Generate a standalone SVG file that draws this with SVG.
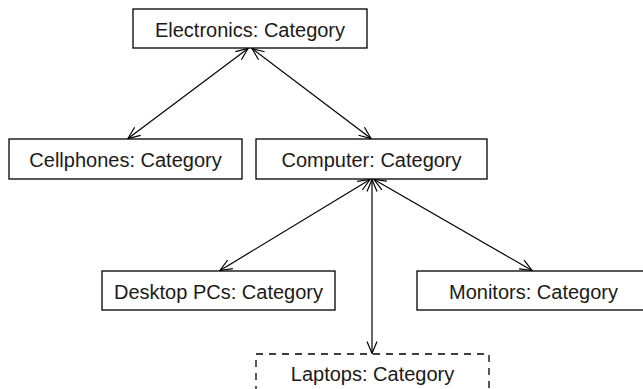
<svg xmlns="http://www.w3.org/2000/svg" width="643" height="389" viewBox="0 0 643 389">
<style>
.box{fill:#fff;stroke:#000;stroke-width:1.3}
.dash{stroke-dasharray:7,6}
.lbl{font-family:"Liberation Sans",Arial,Helvetica,sans-serif;font-size:20px;fill:#1a1a1a;text-anchor:middle}
.con{stroke:#000;stroke-width:1.2;fill:none;marker-start:url(#ah);marker-end:url(#ah)}
</style>
<defs>
<marker id="ah" markerUnits="userSpaceOnUse" viewBox="0 0 14 12" markerWidth="14" markerHeight="12" refX="13" refY="6" orient="auto-start-reverse">
<path d="M1,1 L13,6 L1,11" fill="none" stroke="#000" stroke-width="1.2"/>
</marker>
</defs>
<rect width="643" height="389" fill="#fff"/>
<g id="connectors">
<line class="con" x1="248" y1="48.5" x2="128" y2="138.5"/>
<line class="con" x1="252" y1="48.5" x2="371" y2="138.5"/>
<line class="con" x1="370" y1="179.5" x2="220" y2="270.5"/>
<line class="con" x1="372" y1="179.5" x2="372" y2="353.5"/>
<line class="con" x1="374" y1="179.5" x2="532" y2="270.5"/>
</g>
<g id="electronics">
<rect class="box" x="133" y="9" width="234" height="39"/>
<text class="lbl" x="250" y="36.5">Electronics: Category</text>
</g>
<g id="cellphones">
<rect class="box" x="9" y="139" width="233" height="40"/>
<text class="lbl" x="125.5" y="166.5">Cellphones: Category</text>
</g>
<g id="computer">
<rect class="box" x="256" y="139" width="231" height="40"/>
<text class="lbl" x="371.5" y="166.5">Computer: Category</text>
</g>
<g id="desktop">
<rect class="box" x="102" y="271" width="233" height="39"/>
<text class="lbl" x="218.5" y="298.5">Desktop PCs: Category</text>
</g>
<g id="monitors">
<rect class="box" x="417" y="271" width="233" height="39"/>
<text class="lbl" x="533.5" y="298.5">Monitors: Category</text>
</g>
<g id="laptops">
<rect class="box dash" x="256" y="354" width="233" height="40"/>
<text class="lbl" x="372.5" y="381">Laptops: Category</text>
</g>
</svg>
